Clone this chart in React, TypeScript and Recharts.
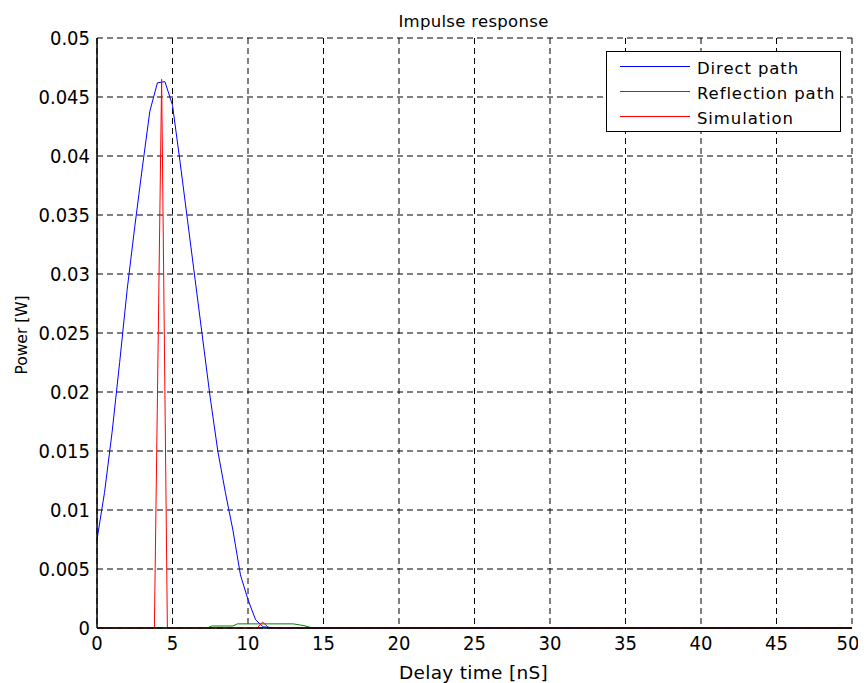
import React from 'react';
import { LineChart, Line, XAxis, YAxis, CartesianGrid } from 'recharts';

const xTicks = [0, 5, 10, 15, 20, 25, 30, 35, 40, 45, 50];
const yTicks = [0, 0.005, 0.01, 0.015, 0.02, 0.025, 0.03, 0.035, 0.04, 0.045, 0.05];
const yTickLabels = ['0', '0.005', '0.01', '0.015', '0.02', '0.025', '0.03', '0.035', '0.04', '0.045', '0.05'];

const seriesNames = ['Direct path', 'Reflection path', 'Simulation'];
const seriesColors = ['#0000ff', '#008000', '#ff0000'];

const directX = [0, 0.5, 1, 1.5, 2, 2.5, 3, 3.5, 4, 4.5, 5, 5.5, 6, 6.5, 7, 7.5, 8, 8.5, 9, 9.5, 10, 10.5, 11, 12, 50];
const directY = [0.0075, 0.0115, 0.0166, 0.0225, 0.0287, 0.034, 0.039, 0.0438, 0.0462, 0.0463, 0.0443, 0.0395, 0.0345, 0.0295, 0.0245, 0.0195, 0.015, 0.0115, 0.0083, 0.0045, 0.0024, 0.0007, 0.0001, 0, 0];

const reflectionX = [0, 7.3, 7.6, 9.0, 9.3, 13.0, 13.7, 14.3, 50];
const reflectionY = [0, 0, 0.00017, 0.00017, 0.00035, 0.00035, 0.0002, 0, 0];

const simulationX = [0, 3.8, 4.28, 4.66, 10.6, 10.97, 11.4, 50];
const simulationY = [0, 0, 0.0465, 0, 0, 0.0005, 0, 0];

const toPoints = (xs: number[], ys: number[]) => xs.map((x, i) => ({ x, y: ys[i] }));

const directData = toPoints(directX, directY);
const reflectionData = toPoints(reflectionX, reflectionY);
const simulationData = toPoints(simulationX, simulationY);
const allData = [directData, reflectionData, simulationData];

const TICK_FONT = "'Liberation Sans Narrow', 'DejaVu Sans Condensed', sans-serif";
const TEXT_FONT = "'DejaVu Sans', sans-serif";

export default function App() {
  const W = 850;
  const H = 675;
  return (
    <div style={{ position: 'relative', width: W, height: H, fontFamily: TEXT_FONT, color: '#000' }}>
      <LineChart
        width={W}
        height={H}
        margin={{ top: 30, right: 6, bottom: 25, left: 0 }}
      >
        <CartesianGrid stroke="#000" strokeDasharray="6 4" strokeWidth={1} />
        <XAxis
          dataKey="x"
          type="number"
          domain={[0, 50]}
          ticks={xTicks}
          allowDuplicatedCategory={false}
          axisLine={{ stroke: '#000', strokeWidth: 1.5 }}
          tickLine={false}
          tickSize={0}
          tickMargin={8}
          height={30}
          tick={{ fill: '#000', fontSize: 20, fontFamily: TICK_FONT }}
        />
        <XAxis
          xAxisId="top"
          orientation="top"
          dataKey="x"
          type="number"
          domain={[0, 50]}
          ticks={xTicks}
          tick={false}
          tickLine={false}
          height={0}
          axisLine={{ stroke: '#000', strokeWidth: 1.5 }}
        />
        <YAxis
          type="number"
          domain={[0, 0.05]}
          ticks={yTicks}
          tickFormatter={(v: number) => yTickLabels[yTicks.indexOf(v)] ?? String(v)}
          axisLine={{ stroke: '#000', strokeWidth: 1.5 }}
          tickLine={false}
          tickSize={0}
          tickMargin={7}
          width={89}
          tick={{ fill: '#000', fontSize: 20, fontFamily: TICK_FONT }}
        />
        <YAxis
          yAxisId="right"
          orientation="right"
          type="number"
          domain={[0, 0.05]}
          ticks={yTicks}
          tick={false}
          tickLine={false}
          width={0}
          axisLine={{ stroke: '#000', strokeWidth: 1.5 }}
        />
        {allData.map((d, i) => (
          <Line
            key={seriesNames[i]}
            data={d}
            dataKey="y"
            type="linear"
            stroke={seriesColors[i]}
            strokeWidth={1}
            dot={false}
            activeDot={false}
            isAnimationActive={false}
          />
        ))}
      </LineChart>

      <div style={{ position: 'absolute', left: 88, width: 755, top: 4, textAlign: 'center', fontSize: 16.5, lineHeight: '20px', letterSpacing: 0.3 }}>
        Impulse response
      </div>
      <div style={{ position: 'absolute', left: 88, width: 755, top: 654, textAlign: 'center', fontSize: 18.5, lineHeight: '22px', letterSpacing: 0.3 }}>
        Delay time [nS]
      </div>
      <div
        style={{
          position: 'absolute',
          left: 14,
          top: 327,
          fontSize: 15.5,
          transform: 'translate(-50%, -50%) rotate(-90deg)',
          whiteSpace: 'nowrap',
        }}
      >
        Power [W]
      </div>

      <div
        style={{
          position: 'absolute',
          left: 598,
          top: 43,
          width: 235,
          height: 81,
          border: '1.5px solid #000',
          background: '#fff',
          boxSizing: 'border-box',
          fontSize: 16.5,
          letterSpacing: 0.9,
        }}
      >
        {seriesNames.map((name, i) => (
          <div key={name} style={{ position: 'absolute', left: 0, top: 3 + i * 25.3, height: 22, display: 'flex', alignItems: 'center' }}>
            <div style={{ marginLeft: 13, width: 70, height: 0, borderTop: `1px solid ${seriesColors[i]}` }} />
            <span style={{ marginLeft: 7, whiteSpace: 'nowrap', position: 'relative', top: 2 }}>{name}</span>
          </div>
        ))}
      </div>
    </div>
  );
}
